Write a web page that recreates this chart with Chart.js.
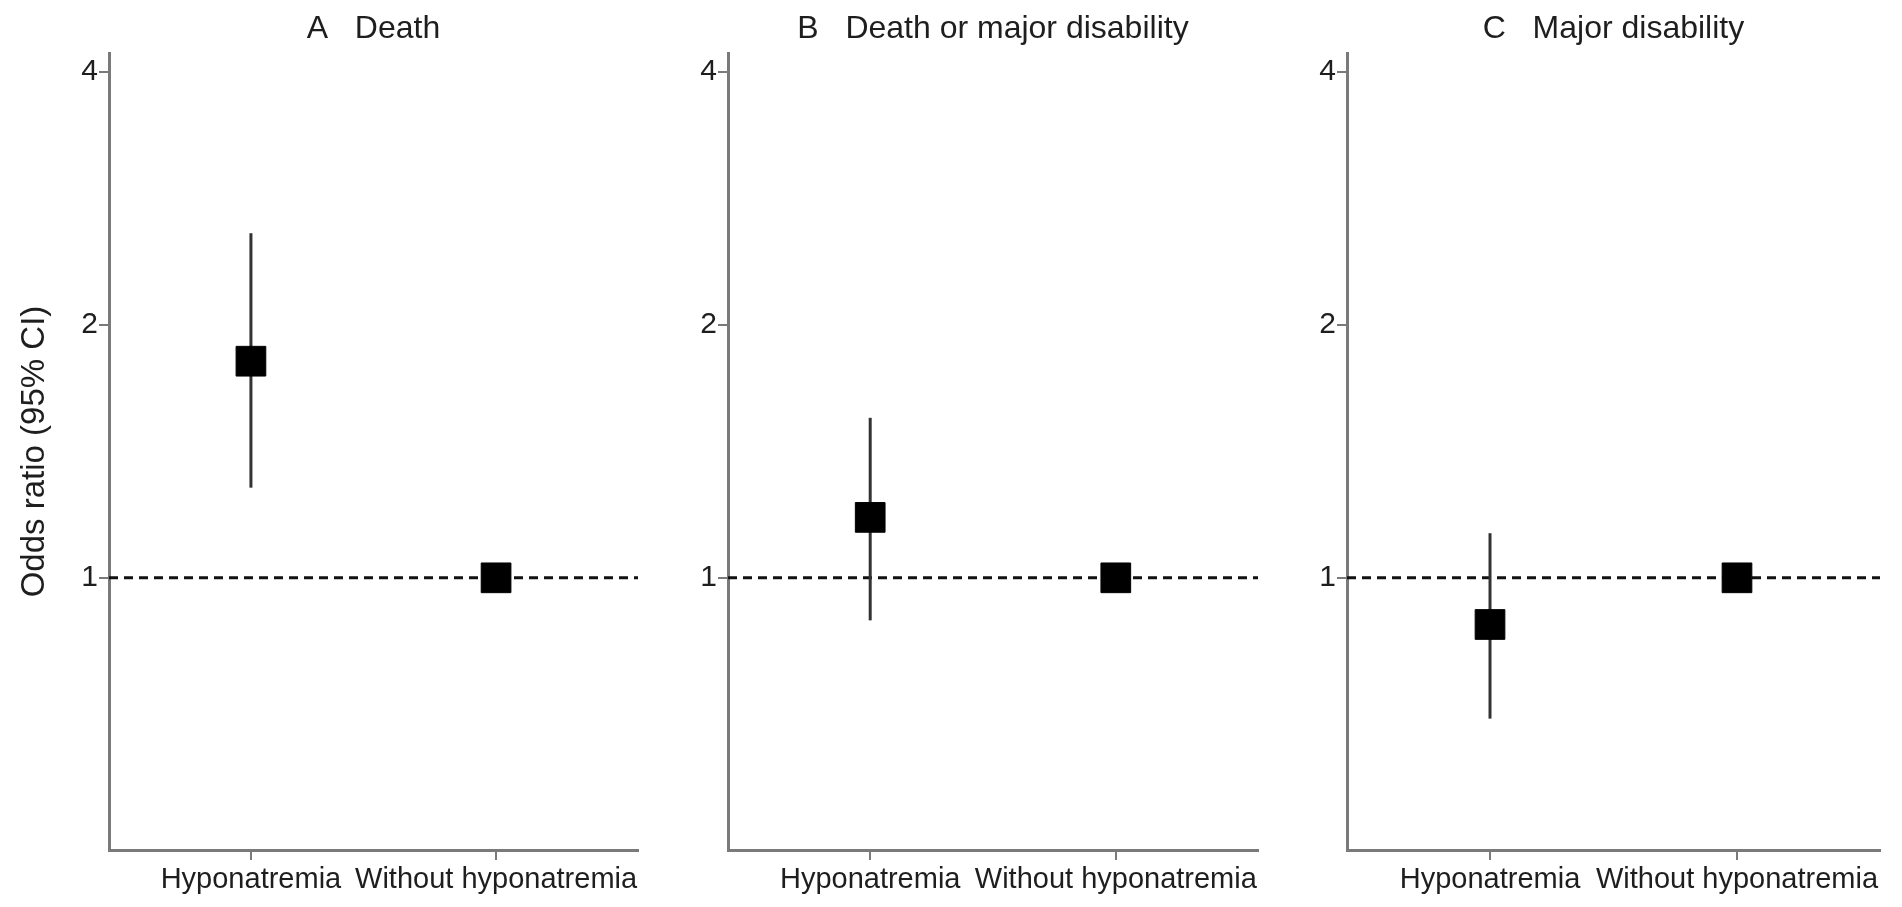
<!DOCTYPE html>
<html><head><meta charset="utf-8">
<script src="https://cdn.jsdelivr.net/npm/chart.js@4.4.1/dist/chart.umd.min.js"></script>
<style>
html,body{margin:0;padding:0;background:#fff;}
#wrap{position:relative;width:1902px;height:907px;overflow:hidden;background:#fff;}
canvas{position:absolute;top:0;}
</style></head><body>
<div id="wrap">
  <canvas id="c0"></canvas>
  <canvas id="c1"></canvas>
  <canvas id="c2"></canvas>
</div>
<script>
// ---- data ----
const categories = ['Hyponatremia', 'Without hyponatremia'];
const panelTitles = ['A   Death', 'B   Death or major disability', 'C   Major disability'];
const yAxisTitle = 'Odds ratio (95% CI)';
const yTickValues = [1, 2, 4];
const referenceValue = 1;

const oddsDeath = [1.81, 1.00];
const lowerDeath = [1.28, null];
const upperDeath = [2.57, null];

const oddsDeathDisability = [1.18, 1.00];
const lowerDeathDisability = [0.89, null];
const upperDeathDisability = [1.55, null];

const oddsDisability = [0.88, 1.00];
const lowerDisability = [0.68, null];
const upperDisability = [1.13, null];

const panelData = [
  [oddsDeath, lowerDeath, upperDeath],
  [oddsDeathDisability, lowerDeathDisability, upperDeathDisability],
  [oddsDisability, lowerDisability, upperDisability]
];

// ---- layout (positions / styles) ----
const FONT = "'Liberation Sans', Arial, Helvetica, sans-serif";
const TEXT = '#1e1e1e';
const AXIS = '#7a7a7a';
const X_MIN = 0.421, X_MAX = 2.579;
const Y_MIN = 0.4745, Y_MAX = 4.21;
const panels = [
  {left: 0,    width: 660, axisW: 109, padRight: 7,  yTitle: true},
  {left: 640,  width: 640, axisW: 88,  padRight: 8,  yTitle: false},
  {left: 1280, width: 622, axisW: 67,  padRight: 13, yTitle: false}
];

panels.forEach((p, i) => {
  const cv = document.getElementById('c' + i);
  cv.width = p.width; cv.height = 907;
  cv.style.left = p.left + 'px';
  cv.style.width = p.width + 'px'; cv.style.height = '907px';

  const [odds, lo, hi] = panelData[i];
  const datasets = [];
  // squares
  datasets.push({
    type: 'scatter',
    data: odds.map((v, k) => ({x: k + 1, y: v})),
    pointStyle: 'rect',
    pointRadius: 21,
    pointHoverRadius: 21,
    backgroundColor: '#000',
    borderColor: '#000',
    borderWidth: 1,
    order: 0
  });
  // CI bars
  odds.forEach((v, k) => {
    if (lo[k] == null || hi[k] == null) return;
    datasets.push({
      type: 'scatter',
      showLine: true,
      data: [{x: k + 1, y: lo[k]}, {x: k + 1, y: hi[k]}],
      borderColor: '#333',
      borderWidth: 3,
      pointRadius: 0,
      order: 1
    });
  });
  // reference line
  datasets.push({
    type: 'scatter',
    showLine: true,
    data: [{x: X_MIN, y: referenceValue}, {x: X_MAX, y: referenceValue}],
    borderColor: '#111',
    borderWidth: 3,
    borderDash: [9, 6],
    pointRadius: 0,
    order: 2
  });

  new Chart(cv, {
    type: 'scatter',
    data: {datasets},
    options: {
      responsive: false,
      animation: false,
      events: [],
      layout: {padding: {left: 0, right: p.padRight, top: 0, bottom: 0}},
      plugins: {
        legend: {display: false},
        tooltip: {enabled: false},
        title: {
          display: true,
          text: panelTitles[i],
          fullSize: false,
          color: TEXT,
          font: {family: FONT, size: 32, weight: 'normal'},
          padding: {top: 10, bottom: 4.6}
        }
      },
      scales: {
        x: {
          type: 'linear',
          min: X_MIN, max: X_MAX,
          afterBuildTicks: s => { s.ticks = categories.map((c, k) => ({value: k + 1})); },
          afterFit: s => { s.height = 57; },
          ticks: {
            callback: (v, idx) => categories[idx],
            color: TEXT,
            font: {family: FONT, size: 29},
            padding: 3,
            autoSkip: false,
            maxRotation: 0
          },
          grid: {drawOnChartArea: false, drawTicks: true, tickLength: 10, color: AXIS, tickColor: AXIS, lineWidth: 2},
          border: {display: true, color: AXIS, width: 3}
        },
        y: {
          type: 'logarithmic',
          min: Y_MIN, max: Y_MAX,
          afterBuildTicks: s => { s.ticks = yTickValues.map(v => ({value: v})); },
          afterFit: s => { s.width = p.axisW; },
          ticks: {
            callback: (v, idx) => String(yTickValues[idx]),
            color: TEXT,
            font: {family: FONT, size: 30},
            padding: 1,
            autoSkip: false
          },
          grid: {drawOnChartArea: false, drawTicks: true, tickLength: 10, color: AXIS, tickColor: AXIS, lineWidth: 2},
          border: {display: true, color: AXIS, width: 3},
          title: {
            display: p.yTitle,
            text: yAxisTitle,
            color: TEXT,
            font: {family: FONT, size: 33},
            padding: {top: 15, bottom: 0}
          }
        }
      }
    }
  });
});
</script>
</body></html>
